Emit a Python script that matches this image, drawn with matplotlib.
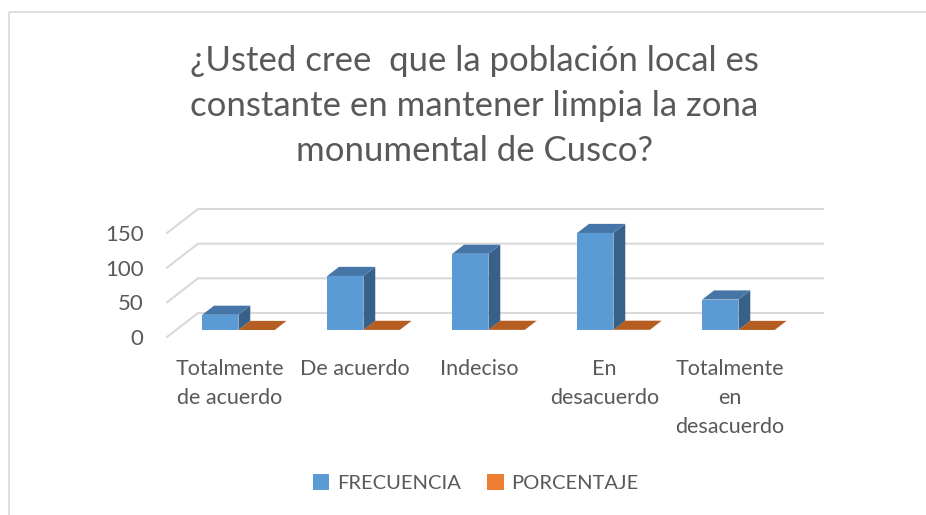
import matplotlib
matplotlib.use('Agg')
import matplotlib.pyplot as plt
from matplotlib.patches import Polygon, Rectangle, Patch
from matplotlib.lines import Line2D
import numpy as np

# Encuesta: limpieza de la zona monumental
categorias = ['Totalmente\nde acuerdo', 'De acuerdo', 'Indeciso',
              'En\ndesacuerdo', 'Totalmente\nen\ndesacuerdo']
frecuencia = [22, 78, 110, 140, 44]
porcentaje = [0.06, 0.20, 0.28, 0.35, 0.11]
series = ['FRECUENCIA', 'PORCENTAJE']
yticks = [0, 50, 100, 150]

titulo = '¿Usted cree  que la población local es\nconstante en mantener limpia la zona\nmonumental de Cusco?'

FONT = 'Lato'
GRIS = '#595959'
GRID = '#D9D9D9'
# colores de cara frontal, superior y lateral
AZUL = ('#5B9BD5', '#4676A8', '#386189')
NARANJA = ('#ED7D31', '#B65D22', '#A0521E')

W, H = 926, 515
fig = plt.figure(figsize=(W / 100, H / 100), dpi=100)

# marco del area del grafico
fig.patches.append(Rectangle((9 / W, 1 - 12 / H), 1.0, -1.0, transform=fig.transFigure,
                             fill=False, edgecolor='#D9D9D9', linewidth=1.2))

# plano frontal del grafico
x0p, x1p, y0p, y1p = 167, 792, 337, 233
ax = fig.add_axes([x0p / W, 1 - y0p / H, (x1p - x0p) / W, (y0p - y1p) / H])
ax.set_xlim(-0.5, len(categorias) - 0.5)
ax.set_ylim(0, 150)
for s in ax.spines.values():
    s.set_visible(False)

# desplazamiento de profundidad en unidades de datos
px_x = (x1p - x0p) / len(categorias)
px_y = (y0p - y1p) / 150
dx = 31 / px_x
dy = 24 / px_y

# pared del fondo con lineas de cuadricula
xl, xr = -0.5, len(categorias) - 0.5
for v in yticks:
    ax.add_line(Line2D([xl, xl + dx, xr + dx], [v, v + dy, v + dy],
                       color=GRID, lw=1.5, clip_on=False, zorder=1))

d0, d1 = 0.29, 0.67
ancho = 0.29


def barra(xa, xb, v, cols):
    fx0, fy0 = d0 * dx, d0 * dy
    bx0, by0 = d1 * dx, d1 * dy
    frente = Polygon([(xa + fx0, fy0), (xb + fx0, fy0), (xb + fx0, v + fy0), (xa + fx0, v + fy0)],
                     closed=True, facecolor=cols[0], edgecolor='none', clip_on=False, zorder=3)
    lado = Polygon([(xb + fx0, fy0), (xb + bx0, by0), (xb + bx0, v + by0), (xb + fx0, v + fy0)],
                   closed=True, facecolor=cols[2], edgecolor='none', clip_on=False, zorder=3)
    tapa = Polygon([(xa + fx0, v + fy0), (xb + fx0, v + fy0), (xb + bx0, v + by0), (xa + bx0, v + by0)],
                   closed=True, facecolor=cols[1], edgecolor='none', clip_on=False, zorder=3)
    for p in (frente, lado, tapa):
        ax.add_patch(p)


for i, (f, p) in enumerate(zip(frecuencia, porcentaje)):
    barra(i - ancho, i, f, AZUL)
    barra(i, i + ancho, p, NARANJA)

ax.set_yticks(yticks)
ax.set_yticklabels([str(t) for t in yticks], fontsize=16, color=GRIS, family=FONT)
ax.set_xticks(range(len(categorias)))
ax.set_xticklabels(categorias, fontsize=15.5, color=GRIS, family=FONT, linespacing=1.55, va='top')
ax.tick_params(axis='y', length=0, pad=17)
ax.tick_params(axis='x', length=0, pad=16)

fig.text(474 / W, 1 - 106 / H, titulo, ha='center', va='center', fontsize=25,
         color=GRIS, family=FONT, linespacing=1.5)

handles = [Patch(facecolor=AZUL[0], edgecolor='none'), Patch(facecolor=NARANJA[0], edgecolor='none')]
fig.legend(handles, series, loc='center', bbox_to_anchor=(476 / W, 1 - 483 / H), ncol=2,
           frameon=False, prop={'family': FONT, 'size': 14.5}, labelcolor=GRIS,
           handlelength=0.8, handleheight=0.8, handletextpad=0.4, columnspacing=1.3)

fig.savefig('out.png', dpi=100)
